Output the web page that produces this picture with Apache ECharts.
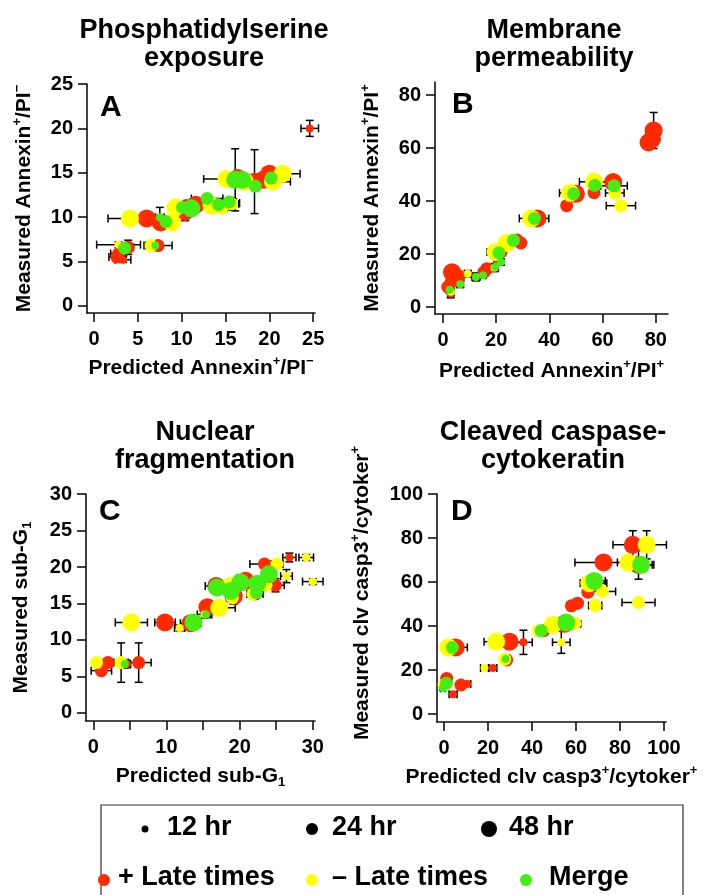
<!DOCTYPE html>
<html>
<head>
<meta charset="utf-8">
<script src="https://cdn.jsdelivr.net/npm/echarts@6.0.0/dist/echarts.min.js"></script>
<style>
  html, body { margin: 0; padding: 0; background: #fff; }
  #chart { width: 704px; height: 895px; }
</style>
</head>
<body>
<div id="chart"></div>
<script>
// ---- panel A: phosphatidylserine exposure (predicted vs measured Annexin+/PI-) ----
var psPred    = [24.6, 4.1, 6.0, 7.6, 7.5, 8.2, 8.9, 9.3, 10.1, 10.4, 10.5, 11.1, 11.6, 12.9, 13.4, 13.8, 14.2, 14.6, 15.5, 15.4, 15.7, 15.1, 16.1, 16.4, 16.9, 17.2, 18.3, 18.4, 19.3, 20.0, 20.2, 20.4, 21.5, 2.8, 3.5, 3.9, 2.8, 2.6, 3.3, 6.5, 7.0, 7.3];
var psMeas    = [20.0, 9.85, 9.85, 9.4, 10.0, 9.5, 9.4, 11.1, 11.1, 10.3, 11.3, 11.0, 11.4, 12.1, 11.3, 11.5, 11.4, 11.0, 11.6, 11.7, 11.5, 14.3, 14.2, 14.4, 14.2, 14.0, 14.0, 13.5, 14.2, 14.9, 14.4, 14.0, 14.9, 6.9, 6.5, 6.6, 5.9, 5.5, 5.2, 6.8, 6.8, 6.8];
var psPredErr = [1.0, 2.5, 0.6, 0.8, 0.5, 0.6, 0.6, 0.6, 0.5, 0.6, 0.4, 0.6, 0.6, 1.8, 0.7, 0.6, 0.5, 0.6, 1.1, 0.8, 0.8, 2.6, 0.7, 0.8, 0.8, 0.7, 0.7, 0.5, 0.6, 0.5, 0.5, 2.0, 2.0, 2.5, 0.5, 0.6, 0.9, 0.9, 0.9, 0.6, 0.4, 1.6];
var psMeasErr = [0.9, 0.3, 0.3, 0.5, 1.1, 0.5, 0.5, 0.4, 0.4, 0.7, 0.3, 0.4, 0.3, 0.4, 0.4, 0.3, 0.3, 0.3, 0.4, 0.3, 0.7, 0.6, 3.5, 0.6, 0.6, 0.5, 3.6, 0.5, 0.5, 0.4, 0.4, 0.4, 0.4, 0.3, 0.6, 0.8, 0.4, 0.4, 0.3, 0.2, 0.2, 0.3];
var psHours   = [12, 48, 48, 48, 12, 24, 48, 48, 24, 24, 24, 48, 48, 24, 48, 24, 24, 24, 24, 24, 24, 48, 48, 48, 48, 48, 48, 24, 48, 48, 24, 48, 48, 12, 24, 24, 24, 24, 12, 24, 12, 24];
var psGroup   = ['plus','minus','plus','plus','merge','merge','minus','minus','merge','plus','plus','merge','plus','merge','minus','plus','merge','minus','plus','merge','minus','minus','merge','plus','merge','minus','plus','merge','plus','plus','merge','minus','minus','minus','merge','plus','plus','plus','plus','minus','merge','plus'];
var psTicks   = [0, 5, 10, 15, 20, 25];

// ---- panel B: membrane permeability (Annexin+/PI+) ----
var mpPred    = [79.2, 77.3, 78.6, 56.8, 64.0, 56.8, 57.1, 64.3, 64.6, 66.9, 46.5, 47.8, 50.0, 49.1, 33.2, 35.5, 34.4, 29.3, 27.8, 26.5, 24.0, 21.9, 21.0, 19.8, 20.6, 21.8, 19.4, 19.7, 16.5, 15.4, 15.0, 12.4, 9.3, 3.4, 5.0, 3.1, 1.8, 6.5, 2.5, 3.0, 2.9];
var mpMeas    = [66.7, 62.2, 63.5, 47.3, 47.2, 43.2, 46.0, 45.8, 43.1, 38.3, 38.3, 43.1, 42.8, 42.8, 33.5, 33.5, 33.5, 24.2, 25.3, 25.2, 24.2, 20.9, 20.5, 20.8, 17.0, 17.0, 14.9, 15.2, 14.5, 13.2, 12.0, 11.4, 12.6, 13.2, 11.3, 9.4, 7.6, 8.6, 6.6, 5.8, 5.0];
var mpPredErr = [1.5, 1.5, 1.2, 5.5, 1.5, 1.0, 1.0, 5.0, 3.5, 5.5, 1.0, 4.0, 2.0, 1.5, 4.5, 4.3, 1.5, 1.0, 1.5, 1.0, 1.5, 1.5, 1.0, 3.2, 1.4, 1.0, 1.2, 1.0, 1.5, 1.5, 1.0, 1.5, 1.2, 1.0, 1.0, 1.0, 1.0, 1.2, 1.0, 1.0, 1.0];
var mpMeasErr = [6.8, 1.5, 1.5, 0.8, 0.8, 0.8, 0.8, 0.8, 0.8, 0.8, 0.8, 0.8, 0.8, 0.8, 0.8, 0.8, 0.8, 0.8, 1.2, 0.8, 1.5, 1.0, 1.0, 1.0, 1.2, 1.2, 1.5, 1.2, 1.5, 1.5, 1.0, 1.5, 1.2, 1.0, 1.0, 1.0, 1.0, 1.2, 1.2, 1.5, 1.5];
var mpHours   = [48, 48, 48, 48, 48, 24, 24, 24, 24, 24, 24, 48, 48, 24, 48, 48, 24, 24, 24, 24, 48, 24, 24, 48, 12, 12, 12, 12, 24, 24, 12, 12, 12, 48, 48, 24, 24, 12, 12, 12, 12];
var mpGroup   = ['plus','plus','plus','minus','plus','plus','merge','merge','minus','minus','plus','minus','plus','merge','minus','plus','merge','plus','plus','merge','minus','plus','merge','minus','plus','merge','minus','merge','plus','plus','merge','merge','minus','plus','plus','plus','plus','merge','merge','minus','plus'];
var mpTicks   = [0, 20, 40, 60, 80];

// ---- panel C: nuclear fragmentation (sub-G1) ----
var nfPred    = [0.45, 1.1, 2.0, 3.8, 4.3, 4.6, 6.2, 5.2, 9.8, 11.8, 13.3, 13.7, 15.2, 15.4, 15.6, 17.2, 16.8, 16.9, 18.8, 18.8, 19.2, 19.0, 20.1, 20.8, 21.8, 22.2, 22.3, 22.4, 23.6, 23.4, 24.0, 24.0, 24.9, 25.1, 26.4, 26.8, 29.1, 30.0];
var nfMeas    = [6.9, 5.8, 6.9, 6.9, 6.7, 6.7, 6.9, 12.4, 12.4, 11.65, 12.3, 12.4, 13.5, 13.5, 14.5, 14.4, 17.4, 17.2, 17.4, 16.7, 16.0, 15.8, 17.9, 18.1, 16.3, 16.3, 16.5, 17.7, 17.5, 20.4, 19.3, 19.0, 17.5, 20.4, 18.75, 21.3, 21.3, 18.0];
var nfPredErr = [0.5, 1.4, 0.6, 1.0, 0.5, 0.5, 1.7, 2.2, 1.4, 0.7, 1.4, 1.0, 1.0, 0.6, 0.6, 2.2, 1.5, 0.8, 1.0, 1.0, 0.8, 0.8, 0.8, 0.8, 0.8, 1.0, 0.8, 1.0, 0.8, 2.0, 0.8, 0.8, 1.2, 0.8, 0.8, 0.9, 1.0, 1.4];
var nfMeasErr = [0.3, 0.4, 0.3, 2.7, 0.5, 0.5, 2.7, 0.3, 0.3, 0.4, 0.7, 0.7, 0.5, 0.4, 0.5, 0.5, 0.5, 0.5, 1.0, 1.0, 1.1, 0.6, 1.0, 0.8, 0.6, 0.5, 0.5, 0.6, 0.6, 0.5, 0.5, 0.5, 0.9, 0.5, 0.9, 0.6, 0.4, 0.4];
var nfHours   = [24, 24, 24, 24, 12, 12, 24, 48, 48, 12, 48, 48, 12, 12, 48, 48, 48, 48, 48, 48, 48, 24, 48, 48, 24, 24, 24, 48, 24, 24, 24, 48, 24, 24, 12, 12, 12, 12];
var nfGroup   = ['minus','plus','plus','minus','merge','plus','plus','minus','plus','minus','plus','merge','minus','merge','plus','minus','plus','merge','minus','merge','plus','minus','merge','plus','minus','plus','merge','merge','minus','plus','plus','merge','plus','minus','minus','plus','minus','minus'];
var nfTicks   = [0, 10, 20, 30];
var nfTickMarks = [0, 5, 10, 15, 20, 25, 30];
var nfYTicks  = [0, 5, 10, 15, 20, 25, 30];

// ---- panel D: cleaved caspase-3 / cytokeratin ----
var ccPred    = [2.0, 5.3, 3.8, 1.2, 1.1, 0.0, -0.5, 4.1, 7.7, 10.6, 18.4, 22.2, 27.6, 28.5, 28.0, 23.7, 29.8, 36.1, 53.3, 43.0, 45.3, 44.2, 49.4, 54.8, 55.6, 59.4, 60.6, 57.9, 60.7, 68.7, 72.0, 65.4, 66.0, 68.0, 68.3, 88.4, 72.5, 83.8, 88.4, 89.6, 85.8, 92.1];
var ccMeas    = [30.3, 30.3, 30.3, 16.2, 14.0, 13.2, 11.7, 9.0, 13.2, 13.7, 20.9, 20.9, 24.9, 24.6, 25.0, 32.9, 32.9, 32.6, 32.6, 37.9, 37.9, 37.9, 40.5, 41.0, 41.6, 41.3, 41.0, 49.2, 50.4, 49.3, 55.7, 55.4, 59.5, 59.5, 60.5, 50.7, 68.9, 68.9, 67.8, 67.8, 76.9, 76.9];
var ccPredErr = [1.0, 5.3, 1.0, 1.5, 1.5, 1.0, 1.0, 1.8, 2.0, 1.5, 1.8, 1.8, 1.0, 1.0, 1.0, 5.5, 1.5, 4.0, 4.0, 1.5, 1.5, 1.0, 2.0, 2.0, 2.0, 2.0, 1.5, 1.0, 1.0, 3.0, 6.0, 1.5, 4.0, 6.0, 5.0, 7.5, 13.0, 5.0, 7.0, 5.0, 9.0, 9.0];
var ccMeasErr = [1.0, 1.2, 1.0, 1.0, 1.5, 1.0, 1.0, 1.0, 1.0, 1.0, 1.0, 1.0, 1.5, 2.0, 1.0, 1.0, 1.0, 5.5, 5.0, 1.0, 1.0, 1.0, 1.0, 2.0, 1.5, 1.0, 1.0, 1.0, 1.0, 1.0, 1.0, 1.0, 1.0, 1.5, 1.0, 1.0, 2.0, 1.0, 6.5, 1.5, 6.4, 6.4];
var ccHours   = [48, 48, 24, 24, 24, 24, 12, 12, 24, 12, 12, 12, 24, 24, 12, 48, 48, 12, 12, 24, 24, 24, 48, 48, 48, 24, 12, 24, 24, 24, 24, 24, 48, 48, 48, 24, 48, 48, 48, 48, 48, 48];
var ccGroup   = ['minus','plus','merge','plus','merge','minus','merge','plus','plus','plus','minus','plus','minus','plus','merge','minus','plus','plus','minus','minus','plus','merge','minus','plus','merge','minus','minus','plus','plus','minus','minus','plus','minus','plus','merge','minus','plus','minus','plus','merge','plus','minus'];
var ccTicks   = [0, 20, 40, 60, 80, 100];

var groupColor = { plus: '#ff2a00', minus: '#ffff00', merge: '#44ee14' };
var dotSize = { 12: 8, 24: 13, 48: 18 };
var FONT = '"Liberation Sans", Arial, Helvetica, sans-serif';

var chart = echarts.init(document.getElementById('chart'));

// error bars (x and y whiskers with caps)
function errorBars(params, api) {
    var x = api.value(0), y = api.value(1), xe = api.value(2), ye = api.value(3);
    var l = api.coord([x - xe, y]), r = api.coord([x + xe, y]);
    var t = api.coord([x, y + ye]), b = api.coord([x, y - ye]);
    var cap = 4;
    var st = { stroke: '#000', lineWidth: 1.5 };
    function ln(x1, y1, x2, y2) {
        return { type: 'line', shape: { x1: x1, y1: y1, x2: x2, y2: y2 }, style: st };
    }
    return {
        type: 'group',
        children: [
            ln(l[0], l[1], r[0], r[1]),
            ln(l[0], l[1] - cap, l[0], l[1] + cap),
            ln(r[0], r[1] - cap, r[0], r[1] + cap),
            ln(t[0], t[1], b[0], b[1]),
            ln(t[0] - cap, t[1], t[0] + cap, t[1]),
            ln(b[0] - cap, b[1], b[0] + cap, b[1])
        ]
    };
}

var panels = [
    { pred: psPred, meas: psMeas, pe: psPredErr, me: psMeasErr, hr: psHours, grp: psGroup },
    { pred: mpPred, meas: mpMeas, pe: mpPredErr, me: mpMeasErr, hr: mpHours, grp: mpGroup },
    { pred: nfPred, meas: nfMeas, pe: nfPredErr, me: nfMeasErr, hr: nfHours, grp: nfGroup },
    { pred: ccPred, meas: ccMeas, pe: ccPredErr, me: ccMeasErr, hr: ccHours, grp: ccGroup }
];

var series = [];
panels.forEach(function (p, i) {
    var bars = p.pred.map(function (v, k) { return [v, p.meas[k], p.pe[k], p.me[k]]; });
    series.push({
        type: 'custom', xAxisIndex: i, yAxisIndex: i, renderItem: errorBars,
        data: bars, encode: { x: 0, y: 1 }, z: 1, silent: true
    });
    ['plus', 'minus', 'merge'].forEach(function (g) {
        var pts = [];
        p.pred.forEach(function (v, k) {
            if (p.grp[k] === g) pts.push([v, p.meas[k], p.hr[k]]);
        });
        series.push({
            type: 'scatter', xAxisIndex: i, yAxisIndex: i, data: pts, z: 2,
            symbolSize: function (d) { return dotSize[d[2]]; },
            itemStyle: { color: groupColor[g], opacity: 1 },
            emphasis: { disabled: true }
        });
    });
});

var richName = {
    sup: { fontSize: 13, fontWeight: 'bold', fontFamily: FONT, color: '#000', verticalAlign: 'top' },
    sub: { fontSize: 13, fontWeight: 'bold', fontFamily: FONT, color: '#000', verticalAlign: 'bottom' }
};

function axis(grid, min, max, labels, marks, name, gap, isY, namePad) {
    return {
        type: 'value', gridIndex: grid, min: min, max: max,
        position: isY ? 'left' : 'bottom',
        axisLine: { show: true, onZero: false, lineStyle: { color: '#111', width: 1.6 } },
        axisTick: { show: true, length: 9, customValues: marks, lineStyle: { color: '#111', width: 1.6 } },
        axisLabel: { customValues: labels, margin: isY ? 14 : 16, fontSize: 20, fontWeight: 'bold', fontFamily: FONT, color: '#000' },
        splitLine: { show: false },
        name: name, nameLocation: 'middle', nameGap: gap,
        nameTextStyle: { fontSize: 21, fontWeight: 'bold', fontFamily: FONT, color: '#000', lineHeight: 26, rich: richName, padding: namePad || 0 }
    };
}

var option = {
    animation: false,
    backgroundColor: '#fff',
    grid: [
        { left: 87, top: 84, width: 228, height: 229 },
        { left: 435, top: 82, width: 233, height: 232 },
        { left: 86, top: 494, width: 229, height: 227 },
        { left: 437, top: 494, width: 229, height: 228 }
    ],
    xAxis: [
        axis(0, -0.8, 25.2, psTicks, psTicks, 'Predicted Annexin{sup|+}/PI{sup|−}', 42, false),
        axis(1, -3, 84.6, mpTicks, mpTicks, 'Predicted Annexin{sup|+}/PI{sup|+}', 44, false),
        axis(2, -1, 30.3, nfTicks, nfTickMarks, 'Predicted sub-G{sub|1}', 42, false),
        axis(3, -3.2, 100.9, ccTicks, ccTicks, 'Predicted clv casp3{sup|+}/cytoker{sup|+}', 42, false)
    ],
    yAxis: [
        axis(0, -0.8, 25, psTicks, psTicks, 'Measured Annexin{sup|+}/PI{sup|−}', 50, true),
        axis(1, -2.6, 85, mpTicks, mpTicks, 'Measured Annexin{sup|+}/PI{sup|+}', 50, true),
        axis(2, -1.1, 30, nfYTicks, nfYTicks, 'Measured sub-G{sub|1}', 52, true),
        axis(3, -3.6, 100, ccTicks, ccTicks, 'Measured clv casp3{sup|+}/cytoker{sup|+}', 62, true, [0, 0, 0, 30])
    ],
    series: series,
    graphic: [
        // panel titles
        { type: 'text', x: 204, y: 17, style: { text: 'Phosphatidylserine\nexposure', textAlign: 'center', textVerticalAlign: 'top', fontSize: 27, fontWeight: 'bold', fontFamily: FONT, lineHeight: 28, fill: '#000' } },
        { type: 'text', x: 554, y: 17, style: { text: 'Membrane\npermeability', textAlign: 'center', textVerticalAlign: 'top', fontSize: 27, fontWeight: 'bold', fontFamily: FONT, lineHeight: 28, fill: '#000' } },
        { type: 'text', x: 205, y: 419, style: { text: 'Nuclear\nfragmentation', textAlign: 'center', textVerticalAlign: 'top', fontSize: 27, fontWeight: 'bold', fontFamily: FONT, lineHeight: 28, fill: '#000' } },
        { type: 'text', x: 553, y: 419, style: { text: 'Cleaved caspase-\ncytokeratin', textAlign: 'center', textVerticalAlign: 'top', fontSize: 27, fontWeight: 'bold', fontFamily: FONT, lineHeight: 28, fill: '#000' } },
        // panel letters
        { type: 'text', x: 100, y: 108, style: { text: 'A', textVerticalAlign: 'middle', fontSize: 30, fontWeight: 'bold', fontFamily: FONT, fill: '#000' } },
        { type: 'text', x: 452, y: 105, style: { text: 'B', textVerticalAlign: 'middle', fontSize: 30, fontWeight: 'bold', fontFamily: FONT, fill: '#000' } },
        { type: 'text', x: 99, y: 512, style: { text: 'C', textVerticalAlign: 'middle', fontSize: 30, fontWeight: 'bold', fontFamily: FONT, fill: '#000' } },
        { type: 'text', x: 451, y: 512, style: { text: 'D', textVerticalAlign: 'middle', fontSize: 30, fontWeight: 'bold', fontFamily: FONT, fill: '#000' } },
        // legend box
        { type: 'rect', shape: { x: 101, y: 805, width: 582, height: 100 }, style: { fill: 'none', stroke: '#333', lineWidth: 1.2 } },
        { type: 'circle', shape: { cx: 145, cy: 829, r: 3.5 }, style: { fill: '#000' } },
        { type: 'circle', shape: { cx: 312, cy: 829, r: 6 }, style: { fill: '#000' } },
        { type: 'circle', shape: { cx: 489, cy: 829, r: 8 }, style: { fill: '#000' } },
        { type: 'text', x: 167, y: 828, style: { text: '12 hr', textVerticalAlign: 'middle', fontSize: 27, fontWeight: 'bold', fontFamily: FONT, fill: '#000' } },
        { type: 'text', x: 332, y: 828, style: { text: '24 hr', textVerticalAlign: 'middle', fontSize: 27, fontWeight: 'bold', fontFamily: FONT, fill: '#000' } },
        { type: 'text', x: 509, y: 828, style: { text: '48 hr', textVerticalAlign: 'middle', fontSize: 27, fontWeight: 'bold', fontFamily: FONT, fill: '#000' } },
        { type: 'circle', shape: { cx: 104, cy: 880, r: 6 }, style: { fill: groupColor.plus } },
        { type: 'circle', shape: { cx: 312, cy: 880, r: 6 }, style: { fill: groupColor.minus } },
        { type: 'circle', shape: { cx: 526, cy: 880, r: 6 }, style: { fill: groupColor.merge } },
        { type: 'text', x: 118, y: 878, style: { text: '+ Late times', textVerticalAlign: 'middle', fontSize: 27, fontWeight: 'bold', fontFamily: FONT, fill: '#000' } },
        { type: 'text', x: 332, y: 878, style: { text: '– Late times', textVerticalAlign: 'middle', fontSize: 27, fontWeight: 'bold', fontFamily: FONT, fill: '#000' } },
        { type: 'text', x: 549, y: 878, style: { text: 'Merge', textVerticalAlign: 'middle', fontSize: 27, fontWeight: 'bold', fontFamily: FONT, fill: '#000' } }
    ]
};

chart.setOption(option);
</script>
</body>
</html>
